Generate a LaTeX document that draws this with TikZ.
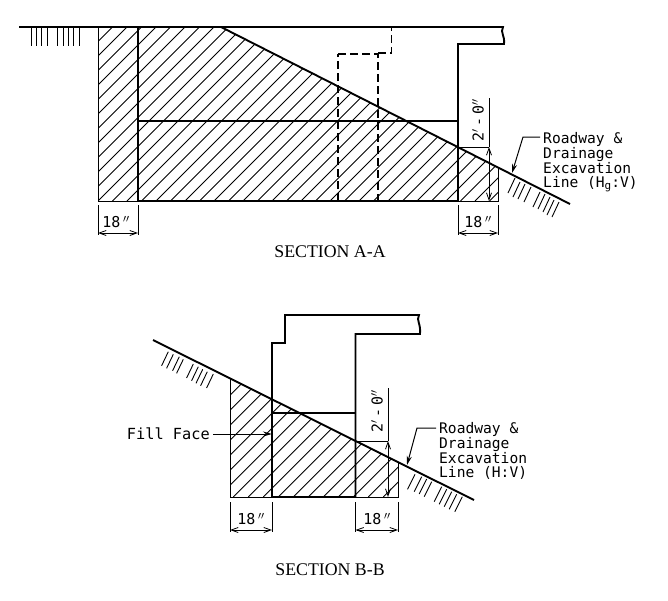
\documentclass[tikz,border=0pt]{standalone}
\usepackage{fontspec}
\setmainfont{Liberation Serif}
\newfontfamily\cadfont{DejaVu Sans Mono}
\usetikzlibrary{arrows.meta}
\tikzset{
  heavy/.style={line width=1.9pt},
  thin line/.style={line width=1pt},
  hatchline/.style={line width=0.85pt},
  dashline/.style={line width=1.2pt,dash pattern=on 8pt off 4pt},
  dimline/.style={line width=0.7pt},
  dimarrow/.style={line width=0.8pt,{Straight Barb[length=7pt,width=5pt]}-{Straight Barb[length=7pt,width=5pt]}},
  leader/.style={line width=1pt,shorten <=3pt,-{Stealth[length=9pt,width=5pt]}},
  tick/.style={line width=0.9pt},
  cadtext/.style={font=\cadfont\fontsize{14.6}{13.4}\selectfont,inner sep=0pt,align=left},
  dimtext/.style={font=\cadfont\fontsize{15}{14}\selectfont,inner sep=0pt},
  title/.style={font=\fontsize{17.8}{20}\selectfont,inner sep=0pt}
}
\newcommand{\wallheight}{2$'$\,-\,0$''$}
\begin{document}
\begin{tikzpicture}[x=1pt,y=-1pt]
  \useasboundingbox (0,0) rectangle (668,600);
  \fill[white] (0,0) rectangle (668,600);

  % section A-A: hatching
  \begin{scope}
    \clip (98,27) -- (221,27) -- (498,168) -- (498,201) -- (98,201) -- cycle;
    \foreach \i in {0,...,40} {
      \draw[hatchline] (98+14.5*\i,201) -- ++(190,-190);
    }
    \foreach \i in {1,...,13} {
      \draw[hatchline] (98-14.5*\i,201) -- ++(190,-190);
    }
  \end{scope}

  % section A-A: outline
  \draw[heavy] (19,27) -- (503,27) .. controls (500,33) and (505,35) .. (504,44) -- (458,44) -- (458,201) -- (138,201) -- (138,27);
  \draw[heavy] (221,27) -- (570,204);
  \draw[heavy] (138,121) -- (458,121);
  \draw[thin line] (98,27) -- (98,201) -- (138,201);
  \draw[thin line] (458,201) -- (498,201) -- (498,168);
  \draw[dashline,line width=1.7pt] (338,201) -- (338,54);
  \draw[dashline] (338,54) -- (378,54) -- (378,201);
  \draw[dashline] (378,53) -- (391.5,53) -- (391.5,27);

  % section A-A: ground ticks
  \foreach \x in {31,36,41,47,57,63,68,73,79} {
    \draw[tick] (\x,28) -- (\x,46);
  }
  \foreach \x/\y in {515/178,520/182,525/184,531/187,540/192,545/194,550/197,554/200,559/202} {
    \draw[tick] (\x,\y) -- ++(-7,15);
  }

  % section A-A: dimensions
  \coordinate (aDimLa) at (98,233);
  \coordinate (aDimLb) at (138,233);
  \coordinate (aDimRa) at (458,233);
  \coordinate (aDimRb) at (498,233);
  \coordinate (aDimTop) at (489,98);
  \coordinate (aDimUp) at (489,147);
  \coordinate (aDimDown) at (489,201);
  \draw[dimline] (98,205) -- (98,235);
  \draw[dimline] (138,205) -- (138,235);
  \draw[dimline] (458,205) -- (458,235);
  \draw[dimline] (498,205) -- (498,235);
  \draw[dimarrow] (aDimLa) -- (aDimLb);
  \draw[dimarrow] (aDimRa) -- (aDimRb);
  \draw[dimline] (458,147) -- (aDimUp);
  \draw[dimline] (aDimTop) -- (aDimUp);
  \draw[dimarrow] (aDimUp) -- (aDimDown);
  \node[dimtext] (aLeft) at (116,222) {18\,$''$};
  \node[dimtext] (aRight) at (478,222) {18\,$''$};
  \node[dimtext,rotate=90] (aHeight) at (478,120) {\wallheight};

  % section A-A: note
  \node[cadtext,anchor=north west] (aNote) at (543,132) {Roadway \&\\Drainage\\Excavation\\Line (H\raisebox{-2pt}{\fontsize{11}{11}\selectfont g}:V)};
  \coordinate (aBend) at (523,137);
  \coordinate (aSlope) at (512,173);
  \draw[leader] (aNote.north west |- aBend) -- (aBend) -- (aSlope);
  \node[title] (aTitle) at (330,252) {SECTION A-A};

  % section B-B: hatching
  \begin{scope}
    \clip (230,378) -- (398,462) -- (398,497) -- (230,497) -- cycle;
    \foreach \i in {-8,...,12} {
      \draw[hatchline] (233.3+15*\i,497) -- ++(150,-150);
    }
  \end{scope}

  % section B-B: outline
  \draw[heavy] (153,340) -- (474,500);
  \draw[heavy] (272,497) -- (272,343) -- (285,343) -- (285,315) -- (419,315) .. controls (416,321) and (421,323) .. (420,334) -- (355.5,334) -- (355.5,497) -- cycle;
  \draw[heavy,line width=1.4pt] (272,413) -- (355.5,413);
  \draw[thin line] (230,378) -- (230,497) -- (272,497);
  \draw[thin line] (355.5,497) -- (398,497) -- (398,462);

  % section B-B: ground ticks
  \foreach \x/\y in {168.3/351.7,173.3/354.3,179.3/356.7,183.3/359.3,193.3/364,198.3/366.7,202.7/369.3,207.3/371.7,213.3/374} {
    \draw[tick] (\x,\y) -- ++(-6.7,14);
  }
  \foreach \x/\y in {415/474.3,421.7/476.7,426.7/479,431.7/481.7,441.7/486.7,446.7/489.3,451.7/491.7,456.7/494.3,462.3/496.7} {
    \draw[tick] (\x,\y) -- ++(-7.5,15);
  }

  % section B-B: dimensions
  \coordinate (bDimLa) at (230,530);
  \coordinate (bDimLb) at (272,530);
  \coordinate (bDimRa) at (355.5,530);
  \coordinate (bDimRb) at (398,530);
  \coordinate (bDimTop) at (388,388);
  \coordinate (bDimUp) at (388,441);
  \coordinate (bDimDown) at (388,497);
  \draw[dimline] (230,502) -- (230,532);
  \draw[dimline] (272,502) -- (272,532);
  \draw[dimline] (355.5,502) -- (355.5,532);
  \draw[dimline] (398,502) -- (398,532);
  \draw[dimarrow] (bDimLa) -- (bDimLb);
  \draw[dimarrow] (bDimRa) -- (bDimRb);
  \draw[dimline] (355.5,441) -- (bDimUp);
  \draw[dimline] (bDimTop) -- (bDimUp);
  \draw[dimarrow] (bDimUp) -- (bDimDown);
  \node[dimtext] (bLeft) at (251,519) {18\,$''$};
  \node[dimtext] (bRight) at (377,519) {18\,$''$};
  \node[dimtext,rotate=90] (bHeight) at (377,411) {\wallheight};

  % section B-B: notes
  \node[cadtext,anchor=north west] (bNote) at (439,422) {Roadway \&\\Drainage\\Excavation\\Line (H:V)};
  \coordinate (bBend) at (417,428);
  \coordinate (bSlope) at (407,465);
  \draw[leader] (bNote.north west |- bBend) -- (bBend) -- (bSlope);
  \node[cadtext,anchor=east,font=\cadfont\fontsize{15.3}{14}\selectfont] (fillFace) at (210,434) {Fill Face};
  \coordinate (fillWall) at (272,434);
  \draw[leader] (fillFace) -- (fillWall);
  \node[title] (bTitle) at (330,570) {SECTION B-B};
\end{tikzpicture}
\end{document}
